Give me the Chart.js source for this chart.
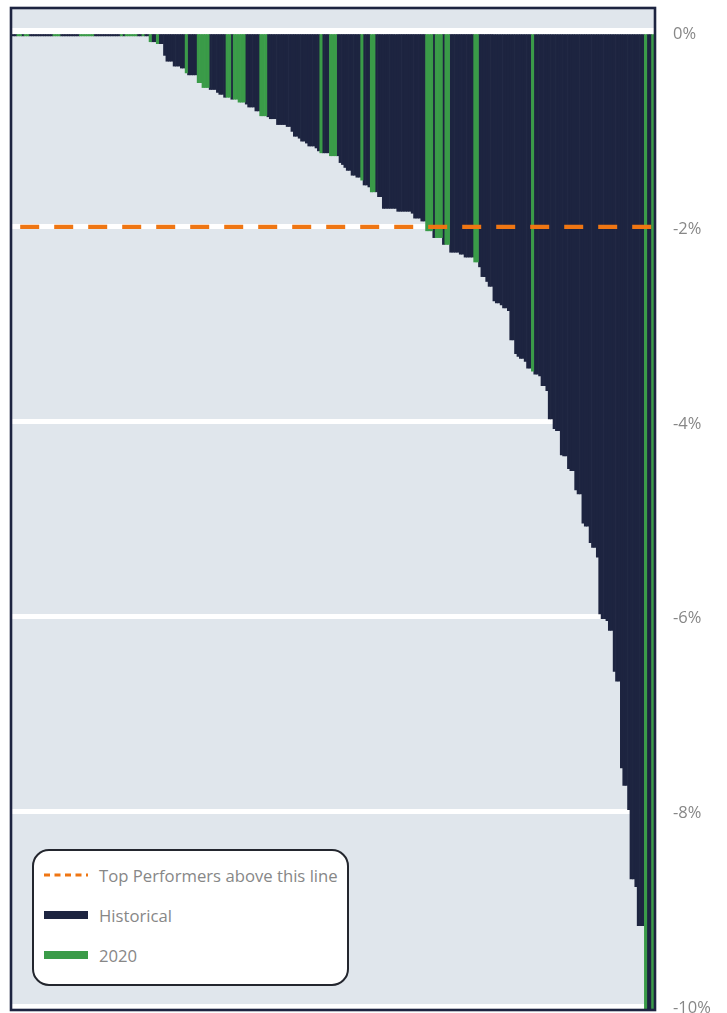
<!DOCTYPE html>
<html>
<head>
<meta charset="utf-8">
<script src="https://cdn.jsdelivr.net/npm/chart.js@4.4.1/dist/chart.umd.min.js"></script>
<style>
  html, body { margin: 0; padding: 0; background: #ffffff; }
  #wrap { position: relative; width: 727px; height: 1013px; overflow: hidden; }
  #chart { position: absolute; left: 0; top: 0; }
  #legend {
    position: absolute; left: 32px; top: 849px; width: 313px; height: 133px;
    border: 2px solid #23262e; border-radius: 17px; background: #ffffff;
    font-family: "Open Sans", sans-serif; font-size: 16.7px; color: #878787;
  }
  .item { position: absolute; left: 10px; height: 22px; display: flex; align-items: center; white-space: nowrap; }
  .sw { width: 44px; height: 8px; margin-right: 11px; flex: none; }
</style>
</head>
<body>
<div id="wrap">
  <canvas id="chart" width="727" height="1013"></canvas>
  <div id="legend"></div>
</div>
<script>
// ---- data ----
const values = [
  -0.04,-0.04,-0.04,-0.04,-0.04,-0.04,-0.04,-0.04,-0.04,-0.04,
  -0.04,-0.04,-0.04,-0.04,-0.04,-0.04,-0.04,-0.04,-0.04,-0.04,
  -0.04,-0.04,-0.04,-0.04,-0.04,-0.04,-0.04,-0.04,-0.04,-0.04,
  -0.04,-0.04,-0.04,-0.04,-0.04,-0.04,-0.04,-0.04,-0.04,-0.04,
  -0.04,-0.04,-0.04,-0.04,-0.04,-0.04,-0.04,-0.04,-0.04,-0.04,
  -0.04,-0.04,-0.04,-0.04,-0.04,-0.04,-0.04,-0.10,-0.10,-0.10,
  -0.12,-0.12,-0.12,-0.24,-0.30,-0.30,-0.30,-0.35,-0.35,-0.35,
  -0.37,-0.37,-0.42,-0.44,-0.44,-0.44,-0.44,-0.52,-0.52,-0.57,
  -0.57,-0.57,-0.59,-0.59,-0.59,-0.62,-0.64,-0.64,-0.67,-0.67,
  -0.67,-0.69,-0.69,-0.69,-0.72,-0.72,-0.72,-0.74,-0.77,-0.77,
  -0.77,-0.81,-0.81,-0.86,-0.86,-0.86,-0.87,-0.89,-0.89,-0.89,
  -0.95,-0.95,-0.95,-0.95,-0.97,-0.97,-1.02,-1.07,-1.07,-1.09,
  -1.12,-1.12,-1.14,-1.17,-1.17,-1.17,-1.19,-1.22,-1.24,-1.24,
  -1.24,-1.24,-1.27,-1.27,-1.27,-1.27,-1.34,-1.36,-1.39,-1.42,
  -1.42,-1.47,-1.47,-1.49,-1.49,-1.52,-1.57,-1.57,-1.59,-1.64,
  -1.64,-1.64,-1.69,-1.69,-1.81,-1.81,-1.81,-1.81,-1.81,-1.81,
  -1.84,-1.84,-1.84,-1.84,-1.84,-1.84,-1.86,-1.91,-1.91,-1.91,
  -1.94,-1.94,-2.04,-2.04,-2.04,-2.11,-2.11,-2.11,-2.11,-2.18,
  -2.18,-2.18,-2.26,-2.26,-2.26,-2.26,-2.28,-2.28,-2.31,-2.31,
  -2.31,-2.31,-2.36,-2.36,-2.41,-2.51,-2.51,-2.56,-2.61,-2.61,
  -2.76,-2.78,-2.78,-2.80,-2.83,-2.83,-2.86,-3.16,-3.16,-3.30,
  -3.33,-3.35,-3.35,-3.38,-3.45,-3.45,-3.48,-3.51,-3.51,-3.53,
  -3.63,-3.63,-3.68,-3.97,-3.97,-4.07,-4.09,-4.09,-4.34,-4.35,
  -4.35,-4.48,-4.50,-4.50,-4.70,-4.74,-4.74,-5.04,-5.07,-5.07,
  -5.24,-5.29,-5.29,-5.39,-5.97,-6.02,-6.02,-6.04,-6.14,-6.14,
  -6.56,-6.66,-6.66,-7.55,-7.73,-7.73,-7.98,-8.69,-8.69,-8.77,
  -9.17,-9.17,-9.17,-10.6,-10.6,-10.6,-10.6
];
// positions (in the sorted order) of bars belonging to 2020
const year2020Index = [2,3,5,6,17,18,19,28,29,30,31,32,33,45,47,48,49,50,51,54,57,60,
  72,77,78,79,80,81,89,90,92,93,94,95,96,103,104,105,128,132,133,134,145,149,150,
  172,173,174,176,177,178,180,181,192,193,216,263,266];
const threshold = -2;
const yTicks = [0, -2, -4, -6, -8, -10];
const seriesNames = ['Top Performers above this line', 'Historical', '2020'];

// ---- build datasets ----
const green = new Set(year2020Index);
const categories = values.map((_, i) => String(i + 1));
const historical = values.map((v, i) => green.has(i) ? null : v);
const y2020 = values.map((v, i) => green.has(i) ? v : null);

const C = { navy: '#1d2440', green: '#3a9b48', orange: '#ef7613', bg: '#e0e6ec', text: '#878787' };

const chartDeco = {
  id: 'chartDeco',
  beforeDraw(chart) {
    const { ctx, chartArea: a } = chart;
    ctx.save();
    ctx.fillStyle = C.bg;
    ctx.fillRect(a.left, a.top, a.right - a.left, a.bottom - a.top);
    ctx.restore();
  },
  afterDatasetsDraw(chart) {
    const { ctx, chartArea: a, scales } = chart;
    const y0 = scales.y.getPixelForValue(0);
    ctx.save();
    ctx.strokeStyle = '#ffffff';
    ctx.lineWidth = 5;
    ctx.beginPath();
    ctx.moveTo(a.left, y0 - 1.5);
    ctx.lineTo(a.right, y0 - 1.5);
    ctx.stroke();
    ctx.strokeStyle = C.navy;
    ctx.lineWidth = 2.6;
    ctx.strokeRect(a.left - 1, a.top - 1, a.right - a.left + 2, a.bottom - a.top + 2);
    ctx.restore();
  }
};

const chart = new Chart(document.getElementById('chart'), {
  data: {
    labels: categories,
    datasets: [
      {
        type: 'line', label: seriesNames[0],
        data: categories.map(() => threshold),
        borderColor: C.orange, borderWidth: 4.3,
        borderDash: [19, 15], borderDashOffset: 27,
        pointRadius: 0, fill: false, order: 0
      },
      {
        type: 'bar', label: seriesNames[1], data: historical,
        backgroundColor: C.navy, grouped: false,
        barPercentage: 1, categoryPercentage: 1, order: 2
      },
      {
        type: 'bar', label: seriesNames[2], data: y2020,
        backgroundColor: C.green, grouped: false,
        barPercentage: 1, categoryPercentage: 1, order: 1
      }
    ]
  },
  options: {
    responsive: false,
    animation: false,
    layout: { padding: { left: 12, top: 9, bottom: 4, right: 0 } },
    plugins: { legend: { display: false }, tooltip: { enabled: false } },
    scales: {
      x: { display: false, grid: { display: false } },
      y: {
        position: 'right',
        min: -10.025, max: 0.236,
        afterBuildTicks(scale) { scale.ticks = yTicks.map(v => ({ value: v })); },
        afterFit(scale) {
          scale.width = 73;
          scale.paddingTop = 0;
          scale.paddingBottom = 0;
        },
        border: { display: false },
        grid: { color: '#ffffff', lineWidth: 5, drawTicks: false },
        ticks: {
          padding: 19, color: C.text, labelOffset: 2,
          font: { family: 'Open Sans', size: 16.5 },
          callback: v => v + '%'
        }
      }
    }
  },
  plugins: [chartDeco]
});

// ---- HTML legend built from the datasets ----
const legend = document.getElementById('legend');
const centers = [24, 64, 104];
chart.data.datasets.forEach((ds, i) => {
  const item = document.createElement('div');
  item.className = 'item';
  item.style.top = (centers[i] - 11) + 'px';
  let sw;
  if (ds.type === 'line') {
    sw = document.createElementNS('http://www.w3.org/2000/svg', 'svg');
    sw.setAttribute('width', '44'); sw.setAttribute('height', '8');
    sw.style.marginRight = '11px'; sw.style.flex = 'none';
    const ln = document.createElementNS('http://www.w3.org/2000/svg', 'line');
    ln.setAttribute('x1', '0'); ln.setAttribute('x2', '44');
    ln.setAttribute('y1', '4'); ln.setAttribute('y2', '4');
    ln.setAttribute('stroke', ds.borderColor); ln.setAttribute('stroke-width', '3');
    ln.setAttribute('stroke-dasharray', '6 4.5');
    sw.appendChild(ln);
  } else {
    sw = document.createElement('div');
    sw.className = 'sw';
    sw.style.background = ds.backgroundColor;
  }
  const t = document.createElement('span');
  t.textContent = ds.label;
  item.appendChild(sw); item.appendChild(t);
  legend.appendChild(item);
});
</script>
</body>
</html>
